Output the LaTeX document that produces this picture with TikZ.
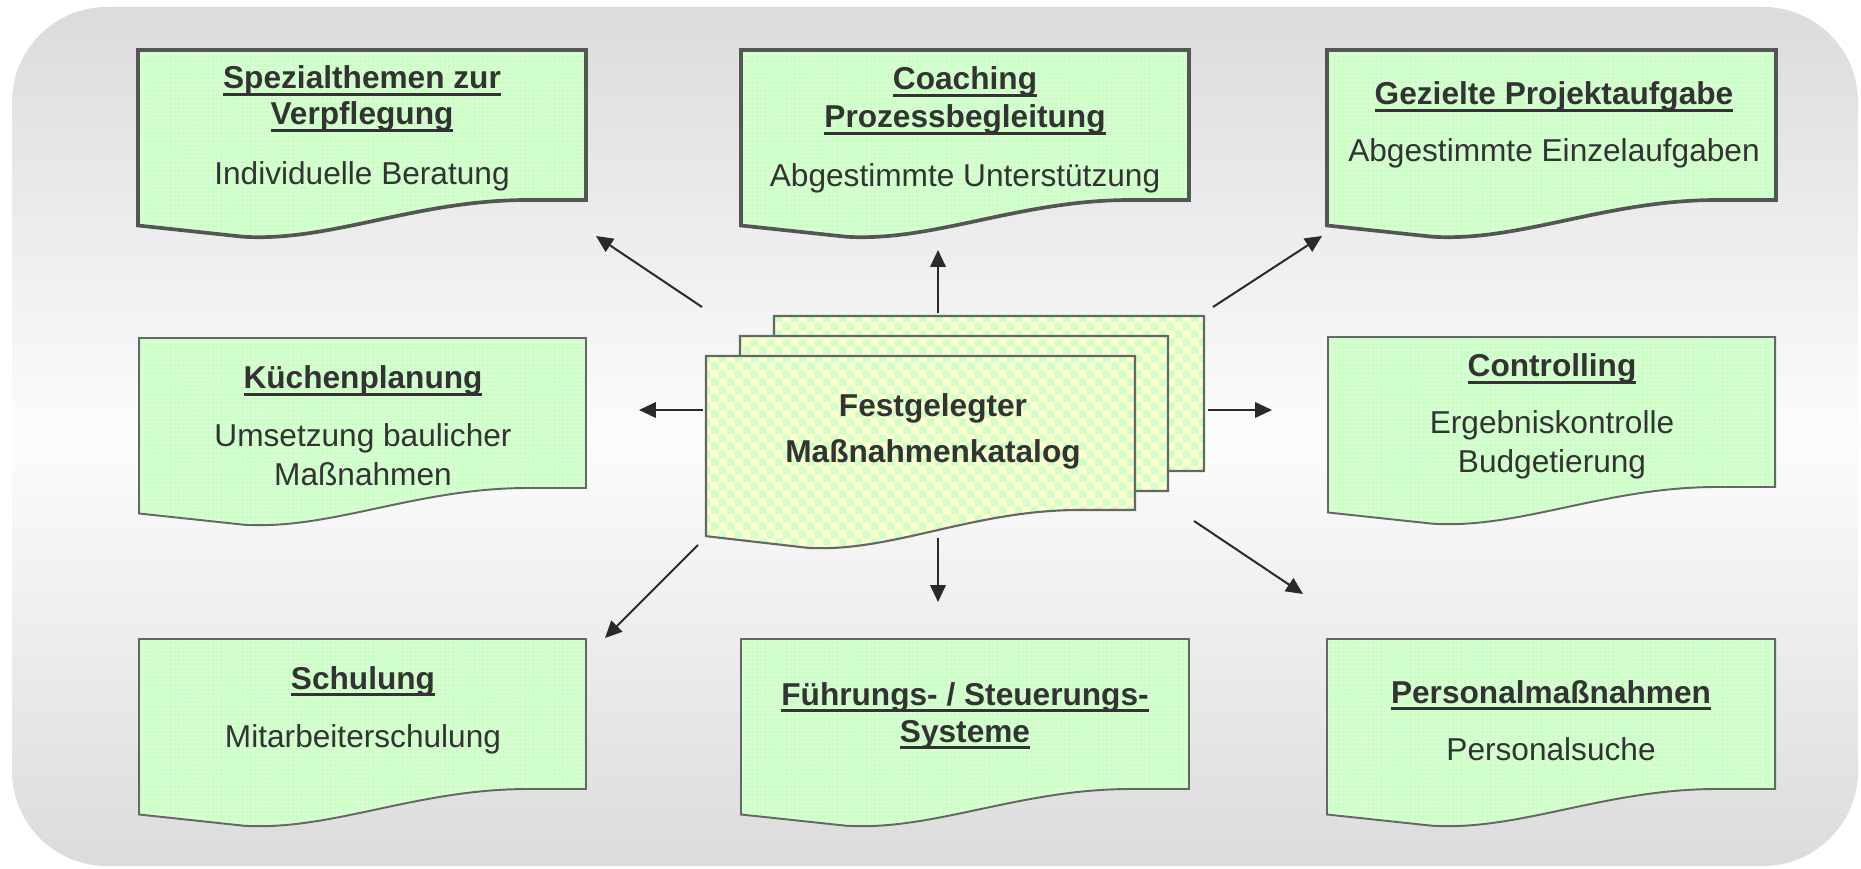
\documentclass[tikz,border=0pt]{standalone}
\usepackage{fontspec}
\setmainfont{Liberation Sans}
\usetikzlibrary{arrows.meta,patterns,patterns.meta}
\definecolor{txt}{HTML}{333333}
\definecolor{boxgreen}{HTML}{CCFFCC}
\definecolor{dotyel}{HTML}{EEFFCC}
\definecolor{cardyel}{HTML}{FFFFCC}
\definecolor{edgedark}{HTML}{555555}
\definecolor{edgelight}{HTML}{666666}
\definecolor{arrowc}{HTML}{2A2A2A}
\pgfdeclarepatternformonly{fineck}{\pgfpointorigin}{\pgfqpoint{4.6pt}{4.6pt}}{\pgfqpoint{4.6pt}{4.6pt}}{%
  \pgfpathrectangle{\pgfpointorigin}{\pgfqpoint{2.3pt}{2.3pt}}%
  \pgfpathrectangle{\pgfqpoint{2.3pt}{2.3pt}}{\pgfqpoint{2.3pt}{2.3pt}}%
  \pgfusepath{fill}}
\newcommand\myul[1]{\setbox0=\hbox{#1}\rlap{\rule[-2.1pt]{\wd0}{0.85pt}}\box0}
% document shape: x0, y0, width, height to right bottom corner
\newcommand\docshape[5][]{%
  \draw[#1] (#2,#3) -- ({#2+#4},#3) -- ({#2+#4},{#3+#5}) -- ({#2+0.87*#4},{#3+#5})
    .. controls ({#2+0.62*#4},{#3+#5}) and ({#2+0.43*#4},{#3+1.28*#5}) .. ({#2+0.235*#4},{#3+1.245*#5})
    -- (#2,{#3+1.17*#5}) -- cycle;}
\tikzset{
  docbox/.style={draw=edgelight, line width=0.55pt, preaction={fill=boxgreen},
    pattern={Dots[distance=1.2pt,radius=0.3pt]}, pattern color=dotyel},
  docboxtop/.style={docbox, draw=edgedark, line width=1.05pt},
  cardbox/.style={draw=edgelight, line width=0.6pt, preaction={fill=cardyel},
    pattern=fineck, pattern color=boxgreen},
  lbl/.style={inner sep=0pt, anchor=base, text=txt, font=\fontsize{9}{10.5}\selectfont},
  ttl/.style={lbl, font=\fontsize{9}{10.5}\selectfont\bfseries},
  arr/.style={draw=arrowc, line width=0.57pt, -{Triangle[length=4.8pt,width=4.4pt]}}
}
\begin{document}
\begin{tikzpicture}[x=0.1mm, y=-0.1mm]
\useasboundingbox (0,0) rectangle (1861,869);
% background
\path[rounded corners=9.5mm, top color=black!14, bottom color=black!14, middle color=black!1]
  (12,7) rectangle (1858,866);
% boxes
\docshape[docboxtop]{138}{50}{448}{150}
\docshape[docboxtop]{741}{50}{448}{150}
\docshape[docboxtop]{1327}{50}{449}{150}
\docshape[docbox]{139}{338}{447}{150}
\docshape[docbox]{1328}{337}{447}{150}
\docshape[docbox]{139}{639}{447}{150}
\docshape[docbox]{741}{639}{448}{150}
\docshape[docbox]{1327}{639}{448}{150}
% center stack
\docshape[cardbox]{774}{316}{430}{155}
\docshape[cardbox]{740}{336}{428}{155}
\docshape[cardbox]{706}{356}{429}{154}
% texts
\node[ttl] (a1) at (362,89) {\myul{Spezialthemen zur}};
\node[ttl] (a2) at (362,125) {\myul{Verpflegung}};
\node[lbl] (a3) at (362,185) {Individuelle Beratung};
\node[ttl] (b1) at (965,90) {\myul{Coaching}};
\node[ttl] (b2) at (965,128) {\myul{Prozessbegleitung}};
\node[lbl] (b3) at (965,187) {Abgestimmte Unterstützung};
\node[ttl] (c1) at (1554,105) {\myul{Gezielte Projektaufgabe}};
\node[lbl] (c2) at (1554,162) {Abgestimmte Einzelaufgaben};
\node[ttl] (d1) at (363,389) {\myul{Küchenplanung}};
\node[lbl] (d2) at (363,447) {Umsetzung baulicher};
\node[lbl] (d3) at (363,486) {Maßnahmen};
\node[ttl] (e1) at (1552,377) {\myul{Controlling}};
\node[lbl] (e2) at (1552,434) {Ergebniskontrolle};
\node[lbl] (e3) at (1552,473) {Budgetierung};
\node[ttl] (f1) at (363,689) {\myul{Schulung}};
\node[lbl] (f2) at (363,747) {Mitarbeiterschulung};
\node[ttl] (g1) at (965,705) {\myul{Führungs- / Steuerungs-}};
\node[ttl] (g2) at (965,742) {\myul{Systeme}};
\node[ttl] (h1) at (1551,703) {\myul{Personalmaßnahmen}};
\node[lbl] (h2) at (1551,760) {Personalsuche};
\node[ttl] (m1) at (933,417) {Festgelegter};
\node[ttl] (m2) at (933,463) {Maßnahmenkatalog};
% arrows
\coordinate (s1) at (702,307); \coordinate (t1) at (596,236);
\coordinate (s2) at (938,313); \coordinate (t2) at (938,250);
\coordinate (s3) at (1213,307); \coordinate (t3) at (1322,236);
\coordinate (s4) at (703,410); \coordinate (t4) at (639,410);
\coordinate (s5) at (1208,410); \coordinate (t5) at (1272,410);
\coordinate (s6) at (698,545); \coordinate (t6) at (605,638);
\coordinate (s7) at (938,538); \coordinate (t7) at (938,602);
\coordinate (s8) at (1194,521); \coordinate (t8) at (1303,594);
\foreach \i in {1,...,8} {\draw[arr] (s\i) -- (t\i);}
\end{tikzpicture}
\end{document}
